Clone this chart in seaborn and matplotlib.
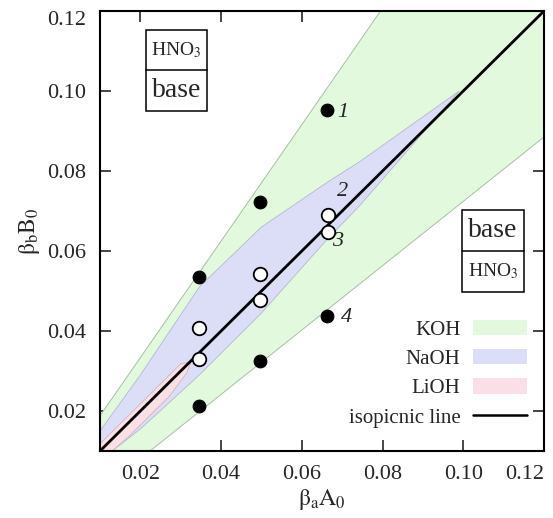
import matplotlib
matplotlib.use("Agg")

import matplotlib.pyplot as plt
import seaborn as sns
import pandas as pd
from matplotlib.patches import Patch, Rectangle
from matplotlib.lines import Line2D

# ---- data ----
# experimental points (filled = outside NaOH band, open = inside)
filled_x = [0.0663, 0.0497, 0.0346, 0.0346, 0.0497, 0.0663]
filled_y = [0.0952, 0.0722, 0.0535, 0.0213, 0.0325, 0.0438]
open_x = [0.0346, 0.0346, 0.0497, 0.0497, 0.0665, 0.0665]
open_y = [0.0407, 0.0330, 0.0543, 0.0478, 0.0690, 0.0648]

point_labels = ["1", "2", "3", "4"]
label_x = [0.0688, 0.0686, 0.0676, 0.0696]
label_y = [0.0947, 0.0748, 0.0625, 0.0435]

# isopicnic line
iso_x = [0.01, 0.12]
iso_y = [0.01, 0.12]

# region outlines
koh_x = [0.0100, 0.0795, 0.1200, 0.1200, 0.0224, 0.0100]
koh_y = [0.0188, 0.1200, 0.1200, 0.0885, 0.0100, 0.0100]

naoh_x = [0.0100, 0.0200, 0.0346, 0.0500, 0.0668, 0.0743, 0.0990,
          0.0743, 0.0668, 0.0500, 0.0346, 0.0200, 0.0130, 0.0100]
naoh_y = [0.0150, 0.0290, 0.0510, 0.0660, 0.0775, 0.0823, 0.1000,
          0.0713, 0.0635, 0.0445, 0.0290, 0.0155, 0.0100, 0.0100]

lioh_x = [0.0100, 0.0300, 0.0325, 0.0315, 0.0270, 0.0225, 0.0170, 0.0130, 0.0100]
lioh_y = [0.0118, 0.0318, 0.0322, 0.0295, 0.0235, 0.0190, 0.0135, 0.0100, 0.0100]

ticks = [0.02, 0.04, 0.06, 0.08, 0.10, 0.12]

koh_color = "#e2f9dd"
naoh_color = "#dcdef7"
lioh_color = "#fbdfe6"
edge_color = "#a9bfa6"

sns.set_theme(style="ticks")
plt.rcParams["font.family"] = ["Liberation Serif", "DejaVu Serif"]
plt.rcParams["mathtext.fontset"] = "stix"

fig = plt.figure(figsize=(5.53, 5.18), dpi=100)
ax = fig.add_axes([100 / 553, 67 / 518, 444 / 553, 440 / 518])

ax.fill(koh_x, koh_y, facecolor=koh_color, edgecolor=edge_color, lw=0.7, zorder=1)
ax.fill(naoh_x, naoh_y, facecolor=naoh_color, edgecolor="#b5b8cf", lw=0.6, zorder=1.1)
ax.fill(lioh_x, lioh_y, facecolor=lioh_color, edgecolor="#d0b5bb", lw=0.6, zorder=1.2)

sns.lineplot(x=iso_x, y=iso_y, color="black", lw=2.0, ax=ax, zorder=3)

pts_f = pd.DataFrame({"x": filled_x, "y": filled_y})
pts_o = pd.DataFrame({"x": open_x, "y": open_y})
sns.scatterplot(data=pts_f, x="x", y="y", color="black", s=85,
                edgecolor="black", ax=ax, zorder=4)
sns.scatterplot(data=pts_o, x="x", y="y", color="white", s=95,
                edgecolor="black", linewidth=1.3, ax=ax, zorder=4)

for t, lx, ly in zip(point_labels, label_x, label_y):
    ax.text(lx, ly, t, fontsize=16, style="italic", va="center", ha="left")

ax.set_xlim(0.01, 0.12)
ax.set_ylim(0.01, 0.12)
ax.set_xticks(ticks)
ax.set_yticks(ticks)
ax.set_xticklabels([f"{t:.2f}" for t in ticks])
ax.set_yticklabels([f"{t:.2f}" for t in ticks])
ax.tick_params(direction="in", length=8, width=1.2, labelsize=16,
               top=True, right=True, pad=10)
ax.get_yticklabels()[-1].set_va("top")
ax.get_xticklabels()[-1].set_ha("right")
for s in ax.spines.values():
    s.set_linewidth(1.5)
    s.set_color("black")

ax.set_xlabel(r"$\mathrm{\beta_a A_0}$", fontsize=17, labelpad=2)
ax.set_ylabel(r"$\mathrm{\beta_b B_0}$", fontsize=17, labelpad=4)


def stacked_box(x0, y0, w, h, mid, top_text, bot_text, top_fs, bot_fs):
    ax.add_patch(Rectangle((x0, y0), w, h, transform=ax.transAxes,
                           fill=False, ec="black", lw=1.1, zorder=5))
    ax.plot([x0, x0 + w], [mid, mid], transform=ax.transAxes,
            color="black", lw=1.1, zorder=5)
    ax.text(x0 + w / 2, (mid + y0 + h) / 2, top_text, transform=ax.transAxes,
            ha="center", va="center", fontsize=top_fs, zorder=6)
    ax.text(x0 + w / 2, (y0 + mid) / 2, bot_text, transform=ax.transAxes,
            ha="center", va="center", fontsize=bot_fs, zorder=6)


stacked_box(0.104, 0.773, 0.137, 0.184, 0.866, r"HNO$_3$", "base", 14, 20)
stacked_box(0.815, 0.362, 0.140, 0.186, 0.455, "base", r"HNO$_3$", 20, 14)

handles = [
    Patch(facecolor=koh_color, edgecolor="none"),
    Patch(facecolor=naoh_color, edgecolor="none"),
    Patch(facecolor=lioh_color, edgecolor="none"),
    Line2D([0], [0], color="black", lw=1.8),
]
ax.legend(handles, ["KOH", "NaOH", "LiOH", "isopicnic line"],
          loc="lower right", bbox_to_anchor=(0.99, 0.025), frameon=False,
          markerfirst=False, fontsize=15, handlelength=2.6, handleheight=0.75,
          labelspacing=0.45, handletextpad=0.6, borderaxespad=0.2)

fig.savefig("out.png", dpi=100)
